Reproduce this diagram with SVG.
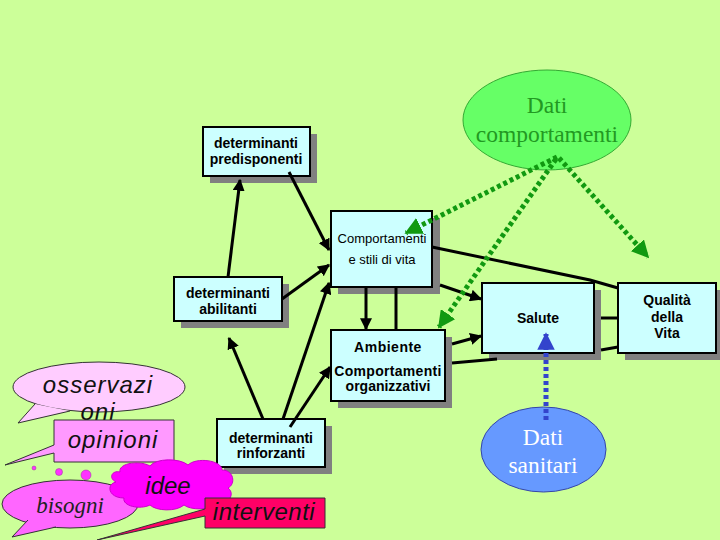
<svg xmlns="http://www.w3.org/2000/svg" width="720" height="540" viewBox="0 0 720 540">
<defs>
<style>
.box{fill:#ccffff;stroke:#000;stroke-width:2}
.sh{fill:#808080}
.bt{font-family:"Liberation Sans",Arial,sans-serif;font-size:14px;font-weight:bold;fill:#000;text-anchor:middle}
.bn{font-family:"Liberation Sans",Arial,sans-serif;font-size:13px;fill:#000;text-anchor:middle}
.ln{stroke:#000;stroke-width:3;fill:none}
.gd{stroke:#119911;stroke-width:5;stroke-dasharray:4 3;fill:none}
.bd{stroke:#3344cc;stroke-width:5;stroke-dasharray:4 3;fill:none}
.it{font-family:"Liberation Sans",Arial,sans-serif;font-style:italic;font-size:24px;fill:#111;text-anchor:middle}
.tm{font-family:"Liberation Serif","Times New Roman",serif;font-size:23.5px;text-anchor:middle}
</style>
<marker id="ah" viewBox="0 0 10 10" refX="9" refY="5" markerWidth="4" markerHeight="4" orient="auto" markerUnits="strokeWidth"><path d="M0,0 L10,5 L0,10 z" fill="#000"/></marker>
<marker id="gh" viewBox="0 0 10 10" refX="9" refY="5" markerWidth="3.5" markerHeight="3.5" orient="auto" markerUnits="strokeWidth"><path d="M0,0 L10,5 L0,10 z" fill="#119911"/></marker>
<marker id="bh" viewBox="0 0 10 10" refX="9" refY="5" markerWidth="3.5" markerHeight="3.5" orient="auto" markerUnits="strokeWidth"><path d="M0,0 L10,5 L0,10 z" fill="#3344cc"/></marker>
</defs>
<rect x="0" y="0" width="720" height="540" fill="#ccff99"/>

<g id="dati-comportamenti">
<ellipse cx="547" cy="120" rx="84" ry="50" fill="#66ff66" stroke="#33aa33" stroke-width="1"/>
<text class="tm" x="547" y="113" fill="#229922">Dati</text>
<text class="tm" x="547" y="142" fill="#229922">comportamenti</text>
</g>

<g id="predisponenti">
<rect class="sh" x="210" y="134" width="107" height="49"/>
<rect class="box" x="203" y="127" width="107" height="49"/>
<text class="bt" x="256" y="148">determinanti</text>
<text class="bt" x="256" y="164">predisponenti</text>
</g>

<g id="comportamenti">
<rect class="sh" x="338" y="218" width="102" height="76"/>
<rect class="box" x="331" y="211" width="101" height="76"/>
<text class="bn" x="382" y="243">Comportamenti</text>
<text class="bn" x="382" y="264">e stili di vita</text>
</g>

<g id="abilitanti">
<rect class="sh" x="181" y="284" width="108" height="44"/>
<rect class="box" x="174" y="277" width="108" height="44"/>
<text class="bt" x="228" y="298">determinanti</text>
<text class="bt" x="228" y="314">abilitanti</text>
</g>

<g id="salute">
<rect class="sh" x="489" y="290" width="112" height="70"/>
<rect class="box" x="482" y="283" width="112" height="70"/>
<text class="bt" x="538" y="323">Salute</text>
</g>

<g id="qualita">
<rect class="sh" x="625" y="290" width="98" height="70"/>
<rect class="box" x="618" y="283" width="98" height="70"/>
<text class="bt" x="667" y="305">Qualità</text>
<text class="bt" x="667" y="322">della</text>
<text class="bt" x="667" y="338">Vita</text>
</g>

<g id="ambiente">
<rect class="sh" x="338" y="337" width="114" height="71"/>
<rect class="box" x="331" y="330" width="114" height="71"/>
<text class="bt" x="388" y="352" letter-spacing="0.5">Ambiente</text>
<text class="bt" x="388" y="376" letter-spacing="0.3">Comportamenti</text>
<text class="bt" x="388" y="391">organizzativi</text>
</g>

<g id="rinforzanti">
<rect class="sh" x="224" y="426" width="108" height="48"/>
<rect class="box" x="217" y="419" width="108" height="48"/>
<text class="bt" x="271" y="443">determinanti</text>
<text class="bt" x="271" y="458">rinforzanti</text>
</g>

<g id="dati-sanitari">
<ellipse cx="543.5" cy="449.5" rx="62.5" ry="42.5" fill="#6699ff" stroke="#3344aa" stroke-width="1"/>
<text class="tm" x="543" y="445" fill="#fff">Dati</text>
<text class="tm" x="543" y="473" fill="#fff">sanitari</text>
</g>

<g id="connectors">
<line class="ln" x1="228" y1="277" x2="240" y2="180" marker-end="url(#ah)"/>
<line class="ln" x1="289" y1="172" x2="329" y2="250" marker-end="url(#ah)"/>
<line class="ln" x1="282" y1="299" x2="329" y2="265" marker-end="url(#ah)"/>
<line class="ln" x1="283" y1="419" x2="329" y2="283" marker-end="url(#ah)"/>
<line class="ln" x1="290" y1="427" x2="330" y2="367" marker-end="url(#ah)"/>
<line class="ln" x1="263" y1="419" x2="229" y2="338" marker-end="url(#ah)"/>
<line class="ln" x1="366" y1="287" x2="366" y2="329" marker-end="url(#ah)"/>
<line class="ln" x1="396" y1="287" x2="396" y2="330"/>
<polyline class="ln" points="432,247 590,280 618,288"/>
<line class="ln" x1="440" y1="285" x2="481" y2="299" marker-end="url(#ah)"/>
<line class="ln" x1="452" y1="344" x2="481" y2="336" marker-end="url(#ah)"/>
<line class="ln" x1="452" y1="363" x2="497" y2="359"/>
<line class="ln" x1="601" y1="318" x2="618" y2="318"/>
<line class="ln" x1="601" y1="350" x2="618" y2="347"/>
<line class="gd" x1="557" y1="157" x2="406" y2="233" marker-end="url(#gh)"/>
<line class="gd" x1="556" y1="159" x2="439" y2="327" marker-end="url(#gh)"/>
<line class="gd" x1="559" y1="158" x2="648" y2="257" marker-end="url(#gh)"/>
<line class="bd" x1="546" y1="420" x2="546" y2="334" marker-end="url(#bh)"/>
</g>

<g id="osservazioni">
<ellipse cx="99" cy="387" rx="86" ry="25" fill="#ffccff" stroke="#333" stroke-width="1"/>
<polyline points="35,404 18,423 70,411" fill="#ffccff" stroke="#333" stroke-width="1"/>
<text class="it" x="98" y="393" letter-spacing="1">osservazi</text>
<text class="it" x="98" y="420" letter-spacing="1">oni</text>
</g>

<g id="opinioni">
<path d="M54,420 H174 V462 H54 V453 L5,465 L54,445 Z" fill="#ff99ff" stroke="#333" stroke-width="1"/>
<text class="it" x="113" y="448" font-size="25" letter-spacing="1">opinioni</text>
</g>

<g id="dots">
<circle cx="34" cy="468" r="2" fill="#ff33ff" stroke="#993399" stroke-width="0.5"/>
<circle cx="59" cy="472" r="3.5" fill="#ff33ff" stroke="#993399" stroke-width="0.5"/>
<circle cx="86" cy="475" r="5" fill="#ff33ff" stroke="#993399" stroke-width="0.5"/>
</g>

<g id="bisogni">
<ellipse cx="70" cy="504" rx="68" ry="24" fill="#ff66ff" stroke="#333" stroke-width="1"/>
<polyline points="28,520 12,537 56,527" fill="#ff66ff" stroke="#333" stroke-width="1"/>
<text x="70" y="513" font-family="Liberation Serif,'Times New Roman',serif" font-style="italic" font-size="23" fill="#222" text-anchor="middle">bisogni</text>
</g>

<g id="idee">
<path d="M120,472 C118,463 140,460 150,466 C156,458 180,458 188,465 C196,457 222,460 222,470 C234,470 236,484 228,488 C236,494 228,506 216,503 C210,511 190,510 184,505 C176,512 156,511 150,505 C140,510 122,506 124,498 C108,498 106,484 116,482 C108,478 112,470 120,472 Z" fill="#ff00ff" stroke="#cc00cc" stroke-width="1"/>
<text class="it" x="168" y="494" fill="#222">idee</text>
</g>

<g id="interventi">
<path d="M205,498 H325 V528 H205 V516 L97,540 L205,509 Z" fill="#ff0066" stroke="#333" stroke-width="1"/>
<text class="it" x="264" y="520" font-size="21" letter-spacing="0.5" fill="#330011">interventi</text>
</g>
</svg>
